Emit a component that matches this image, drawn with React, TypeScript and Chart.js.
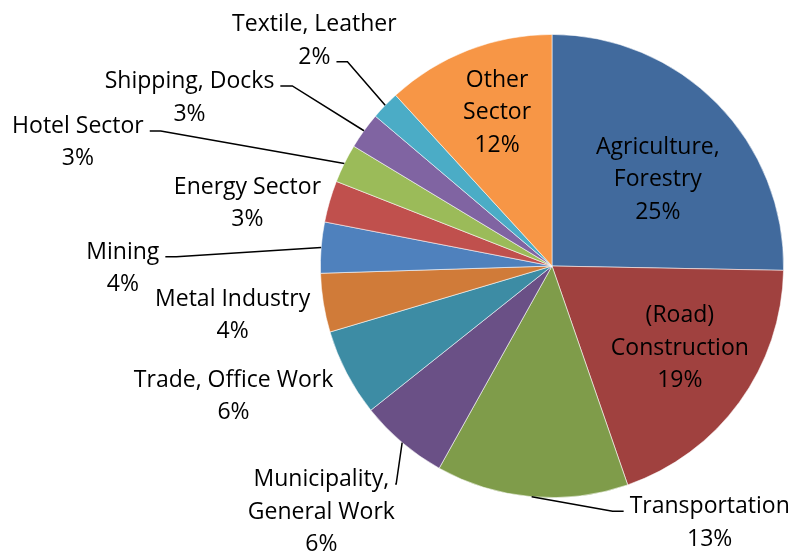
import React, { useEffect, useRef } from "react";
import { Chart, registerables } from "chart.js";

Chart.register(...registerables);

const categories = [
  "Agriculture,\nForestry",
  "(Road)\nConstruction",
  "Transportation",
  "Municipality,\nGeneral Work",
  "Trade, Office Work",
  "Metal Industry",
  "Mining",
  "Energy Sector",
  "Hotel Sector",
  "Shipping, Docks",
  "Textile, Leather",
  "Other\nSector",
];

const values = [25.3, 19.4, 13.4, 6.2, 6.1, 4.1, 3.55, 2.9, 2.7, 2.55, 2.0, 11.8];

const colors = [
  "#416A9D",
  "#A0413F",
  "#7F9C4A",
  "#6A5086",
  "#3D8CA4",
  "#D07B39",
  "#4F81BD",
  "#C0504D",
  "#9BBB59",
  "#8064A2",
  "#4BACC6",
  "#F79646",
];

// label block centre, relative to pie centre, in units of radius
const labelOffsetX = [0.457, 0.552, 0.681, -0.996, -1.375, -1.379, -1.853, -1.315, -2.047, -1.565, -1.026, -0.237];
const labelOffsetY = [-0.379, 0.349, 1.103, 1.056, 0.556, 0.207, 0.004, -0.276, -0.539, -0.733, -0.978, -0.668];
// leader: "" none, "r" from right side, "l" from left side; which line it attaches to
const leaderSide = ["", "", "l", "r", "", "", "r", "", "r", "r", "r", ""];
const leaderLine = [0, 0, 0, 0, 0, 0, 0, 0, 0, 0, 1, 0];
const leaderElbow = [0, 0, 11, 1, 0, 0, 11, 0, 11, 12, 11, 0];

const FONT = "23px 'Open Sans'";
const LINE_H = 32.5;
const TEXT_SHIFT = 1.5;

const labelPlugin = {
  id: "pieLabels",
  afterDatasetsDraw(chart: any) {
    const ctx = chart.ctx;
    const meta = chart.getDatasetMeta(0);
    const total = values.reduce((a, b) => a + b, 0);
    ctx.save();
    ctx.font = FONT;
    ctx.fillStyle = "#000";
    ctx.textAlign = "center";
    ctx.textBaseline = "middle";
    meta.data.forEach((arc: any, i: number) => {
      const R = arc.outerRadius;
      const cx = arc.x;
      const cy = arc.y;
      const lines = categories[i].split("\n").concat([Math.round((values[i] / total) * 100) + "%"]);
      const bx = cx + labelOffsetX[i] * R;
      const by = cy + labelOffsetY[i] * R;
      const top = by - ((lines.length - 1) * LINE_H) / 2;
      lines.forEach((t, k) => ctx.fillText(t, bx, top + k * LINE_H + TEXT_SHIFT));
      const side = leaderSide[i];
      if (side) {
        const li = leaderLine[i];
        const w = ctx.measureText(lines[li]).width;
        const ly = top + li * LINE_H + 6;
        const gap = 6;
        const ax = side === "r" ? bx + w / 2 + gap : bx - w / 2 - gap;
        const ex = side === "r" ? ax + leaderElbow[i] : ax - leaderElbow[i];
        const mid = (arc.startAngle + arc.endAngle) / 2;
        const px = cx + Math.cos(mid) * R;
        const py = cy + Math.sin(mid) * R;
        ctx.beginPath();
        ctx.strokeStyle = "#000";
        ctx.lineWidth = 1.5;
        ctx.moveTo(ax, ly);
        ctx.lineTo(ex, ly);
        ctx.lineTo(px, py);
        ctx.stroke();
      }
    });
    ctx.restore();
  },
};

export default function App() {
  const ref = useRef<HTMLCanvasElement | null>(null);
  useEffect(() => {
    if (!ref.current) return;
    const chart = new Chart(ref.current, {
      type: "pie",
      data: {
        labels: categories.map((c) => c.replace("\n", " ")),
        datasets: [
          {
            data: values,
            backgroundColor: colors,
            borderColor: "rgba(255,255,255,0.7)",
            borderWidth: 0.8,
          },
        ],
      },
      options: {
        responsive: false,
        animation: false,
        layout: { padding: { left: 320, top: 34, right: 8, bottom: 55 } },
        plugins: {
          legend: { display: false },
          tooltip: { enabled: false },
        },
      },
      plugins: [labelPlugin],
    });
    return () => chart.destroy();
  }, []);
  return (
    <div style={{ position: "absolute", left: 0, top: 0, width: 792, height: 553, background: "#fff" }}>
      <canvas ref={ref} width={792} height={553} />
    </div>
  );
}
